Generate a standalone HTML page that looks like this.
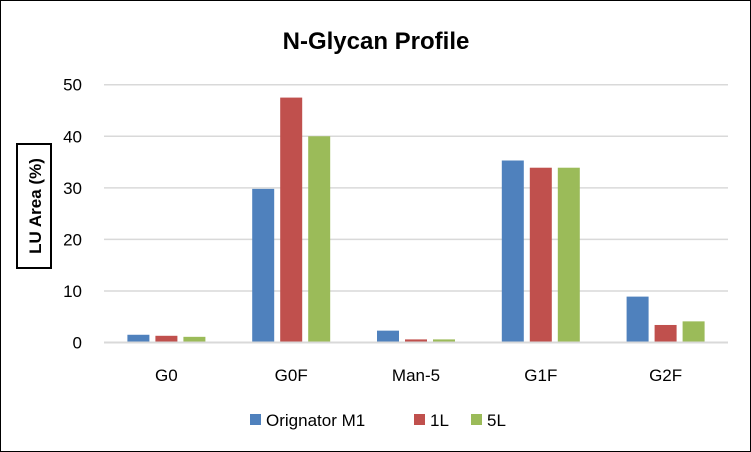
<!DOCTYPE html>
<html><head><meta charset="utf-8"><style>
html,body{margin:0;padding:0;background:#fff}
svg{display:block;font-family:"Liberation Sans",sans-serif}
</style></head><body>
<svg id="chart" width="751" height="452">
<rect x="0.5" y="0.5" width="750" height="451" fill="#fff" stroke="#000" stroke-width="1"/>
<text x="376" y="49" text-anchor="middle" font-size="24" font-weight="bold">N-Glycan Profile</text>
<g id="grid"></g>
<g id="yticks"></g>
<g id="bars"></g>
<g id="xlabels"></g>
<g>
<rect x="17" y="144" width="34" height="124" fill="#fff" stroke="#000" stroke-width="2"/>
<text transform="translate(41,206) rotate(-90)" text-anchor="middle" font-size="17" font-weight="bold">LU Area (%)</text>
</g>
<g id="legend"></g>
</svg>
<script>
const categories=["G0","G0F","Man-5","G1F","G2F"];
const seriesNames=["Orignator M1","1L","5L"];
const originatorValues=[1.5,29.8,2.3,35.3,8.9];
const oneLValues=[1.3,47.5,0.6,33.9,3.4];
const fiveLValues=[1.1,40.0,0.6,33.9,4.1];
const yTicks=[0,10,20,30,40,50];
const colors=["#4f81bd","#c0504d","#9bbb59"];
const series=[originatorValues,oneLValues,fiveLValues];
const NS="http://www.w3.org/2000/svg";
const x0=104,x1=728,y0=342.5,yTop=84.7,yMax=50;
const yScale=v=>y0-(v/yMax)*(y0-yTop);
const bandW=(x1-x0)/categories.length;
const xBand=i=>x0+i*bandW;
function mk(tag,attrs,parent){const e=document.createElementNS(NS,tag);for(const k in attrs)e.setAttribute(k,attrs[k]);parent.appendChild(e);return e;}
const grid=document.getElementById('grid'),yt=document.getElementById('yticks');
yTicks.forEach(t=>{
 const l=mk('line',{x1:x0,x2:x1,y1:yScale(t),y2:yScale(t),stroke:'#d9d9d9','stroke-width':t===0?2:1.5},grid);
 
 
 const tx=mk('text',{x:82,y:yScale(t)+6,'text-anchor':'end','font-size':17},yt);
 tx.textContent=t;
 
 
});
const bars=document.getElementById('bars'),xl=document.getElementById('xlabels');
const barW=22,gap=6;
categories.forEach((c,i)=>{
 const groupW=3*barW+2*gap;
 const start=xBand(i)+(bandW-groupW)/2;
 series.forEach((s,j)=>{
  const r=mk('rect',{x:start+j*(barW+gap),y:yScale(s[i]),width:barW,height:y0-1-yScale(s[i]),fill:colors[j]},bars);
  
  
 });
 const t=mk('text',{x:xBand(i)+bandW/2,y:381,'text-anchor':'middle','font-size':17},xl);
 t.textContent=c;
 
 
});
const lg=document.getElementById('legend');
const lx=[250,414,471];
seriesNames.forEach((n,j)=>{
 const g=mk('g',{},lg);
 
 
 mk('rect',{x:lx[j],y:414,width:11,height:11,fill:colors[j]},g);
 const t=mk('text',{x:lx[j]+16,y:426,'font-size':17},g);
 t.textContent=n;
});
</script>
</body></html>
